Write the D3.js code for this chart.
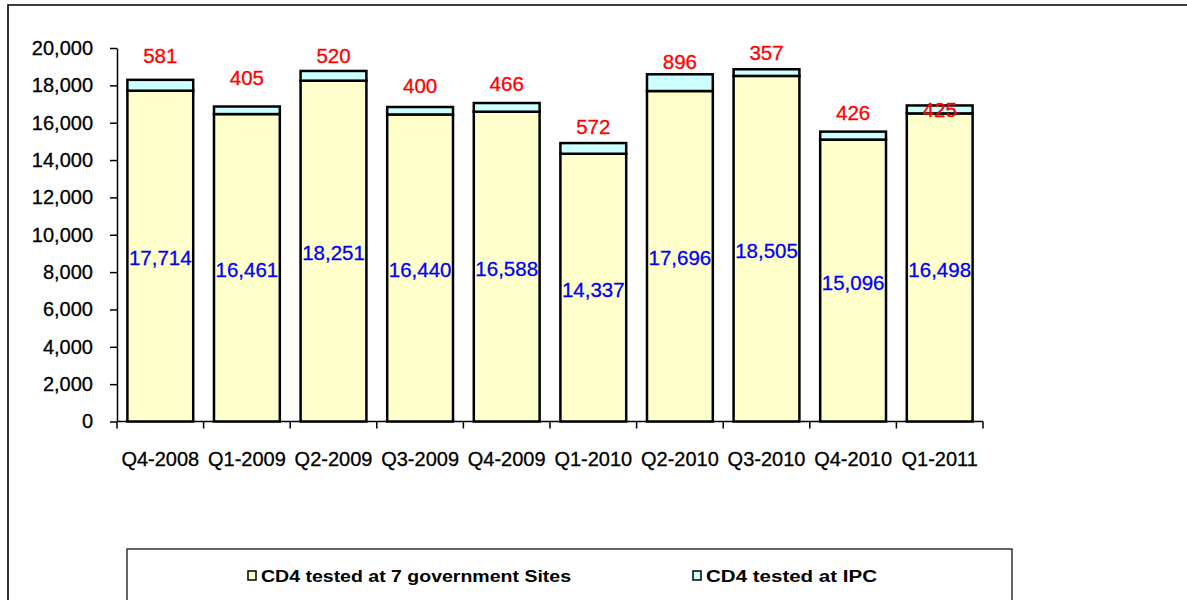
<!DOCTYPE html>
<html>
<head>
<meta charset="utf-8">
<script src="https://cdn.jsdelivr.net/npm/d3@7"></script>
<style>
  html, body { margin: 0; padding: 0; background: #fff; }
  svg { display: block; }
</style>
</head>
<body>
<svg id="chart" width="1187" height="600"></svg>
<script>
const categories = ["Q4-2008","Q1-2009","Q2-2009","Q3-2009","Q4-2009","Q1-2010","Q2-2010","Q3-2010","Q4-2010","Q1-2011"];
const govSites = [17714,16461,18251,16440,16588,14337,17696,18505,15096,16498];
const ipc = [581,405,520,400,466,572,896,357,426,425];
const yTicks = [0,2000,4000,6000,8000,10000,12000,14000,16000,18000,20000];
const seriesNames = ["CD4 tested at 7 government  Sites","CD4 tested at IPC"];
// manual placement of IPC labels (px relative to bar top), as in the original
const ipcLabelDy = [-24,-29,-15,-21,-19,-16,-12,-16,-19,4];

const colors = ["#FFFFCC", "#CCFFFF"];
const svg = d3.select("#chart");
const font = "'Liberation Sans', Arial, sans-serif";

// outer frame
svg.append("path").attr("d", "M8,600 L8,5 L1187,5")
  .attr("fill","none").attr("stroke","#000").attr("stroke-width",1.6);

const x = d3.scaleBand().domain(categories).range([117, 983]).paddingInner(0.24).paddingOuter(0.12);
const y = d3.scaleLinear().domain([0, 20000]).range([421.5, 48]);

// y axis
const yAxis = d3.axisLeft(y).tickValues(yTicks).tickSize(7).tickSizeOuter(0)
  .tickFormat(d3.format(","));
const gy = svg.append("g").attr("transform","translate(117,0)").call(yAxis);
gy.select(".domain").attr("stroke","#000").attr("stroke-width",1.5);
gy.selectAll(".tick line").attr("stroke","#000").attr("stroke-width",1.5);
gy.selectAll(".tick text").attr("font-family",font).attr("font-size","20px")
  .attr("fill","#000").attr("stroke","#000").attr("stroke-width",0.3).attr("x",-24);

// x axis line + ticks at band boundaries
const x0 = 117;
svg.append("line").attr("x1",117).attr("x2",983).attr("y1",y(0)).attr("y2",y(0))
  .attr("stroke","#000").attr("stroke-width",1.5);
svg.selectAll(".xtick").data(d3.range(categories.length + 1)).enter().append("line")
  .attr("x1", i => x0 + i * (866 / categories.length))
  .attr("x2", i => x0 + i * (866 / categories.length))
  .attr("y1", y(0)).attr("y2", y(0) + 7)
  .attr("stroke","#000").attr("stroke-width",1.5);
svg.selectAll(".xlab").data(categories).enter().append("text")
  .attr("x", d => x(d) + x.bandwidth()/2).attr("y", 459).attr("dy","0.35em")
  .attr("text-anchor","middle").attr("font-family",font).attr("font-size","20px")
  .attr("fill","#000").attr("stroke","#000").attr("stroke-width",0.3).text(d => d);

// bars
const bars = svg.append("g");
categories.forEach((c, i) => {
  const g0 = govSites[i], g1 = ipc[i];
  bars.append("rect").attr("x", x(c)).attr("width", x.bandwidth())
    .attr("y", y(g0)).attr("height", y(0) - y(g0))
    .attr("fill", colors[0]).attr("stroke","#000").attr("stroke-width",2.5);
  bars.append("rect").attr("x", x(c)).attr("width", x.bandwidth())
    .attr("y", y(g0 + g1)).attr("height", y(g0) - y(g0 + g1))
    .attr("fill", colors[1]).attr("stroke","#000").attr("stroke-width",2.5);
});

// value labels
svg.selectAll(".glab").data(categories).enter().append("text")
  .attr("x", d => x(d) + x.bandwidth()/2)
  .attr("y", (d,i) => y(govSites[i]/2) + 2).attr("dy","0.35em")
  .attr("text-anchor","middle").attr("font-family",font).attr("font-size","20.5px")
  .attr("fill","#0000FF").attr("stroke","#0000FF").attr("stroke-width",0.3)
  .text((d,i) => d3.format(",")(govSites[i]));
svg.selectAll(".ilab").data(categories).enter().append("text")
  .attr("x", d => x(d) + x.bandwidth()/2)
  .attr("y", (d,i) => y(govSites[i] + ipc[i]) + ipcLabelDy[i]).attr("dy","0.35em")
  .attr("text-anchor","middle").attr("font-family",font).attr("font-size","20.5px")
  .attr("fill","#FF0000").attr("stroke","#FF0000").attr("stroke-width",0.3)
  .text((d,i) => ipc[i]);

// legend
svg.append("rect").attr("x",127).attr("y",549).attr("width",885).attr("height",60)
  .attr("fill","#fff").attr("stroke","#000").attr("stroke-width",1.2);
const legX = [248, 693];
const legW = [310, 171];
seriesNames.forEach((n, i) => {
  svg.append("rect").attr("x", legX[i]).attr("y", 571).attr("width", 8).attr("height", 9)
    .attr("fill", colors[i]).attr("stroke","#000").attr("stroke-width",1.5);
  svg.append("text").attr("x", legX[i] + 13).attr("y", 576).attr("dy","0.35em")
    .attr("font-family","'Liberation Sans Narrow', 'Liberation Sans', Arial, sans-serif")
    .attr("font-weight","bold").attr("font-size","16px").attr("fill","#000")
    .attr("textLength", legW[i]).attr("lengthAdjust","spacingAndGlyphs")
    .text(n);
});
</script>
</body>
</html>
